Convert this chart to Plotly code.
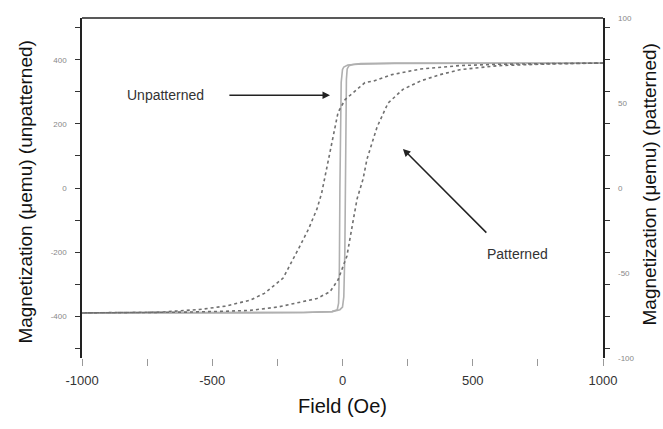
import plotly.graph_objects as go

# Unpatterned loop (left axis, µemu)
unp_desc_H = [1000, 500, 200, 60, 20, 5, 0, -5, -8, -10, -12, -15, -20, -40, -150, -500, -1000]
unp_desc_M = [390, 390, 389, 387, 384, 378, 370, 330, 200, 0, -250, -360, -380, -386, -389, -390, -390]
unp_asc_H = [-1000, -500, -150, -40, -10, 0, 5, 9, 11, 13, 15, 18, 25, 40, 70, 200, 500, 1000]
unp_asc_M = [-390, -390, -389, -386, -380, -372, -340, -200, 0, 200, 340, 372, 382, 386, 389, 390, 390, 390]

# Patterned loop (right axis, µemu)
pat_desc_H = [1000, 800, 600, 450, 300, 190, 120, 86, 50, 10, -17, -40, -67, -80, -98, -130, -163, -200, -228, -300, -355, -450, -550, -700, -850, -1000]
pat_desc_M = [73.5, 73.3, 72.8, 72, 70, 66.7, 63, 62, 57, 52, 44.5, 27, 5.3, -3, -12.3, -24, -34, -45, -53, -62, -66, -69.5, -71.5, -73, -73.3, -73.5]
pat_asc_H = [-1000, -800, -600, -450, -355, -247, -163, -98, -48, -17, 0, 17, 40, 56, 79, 94, 133, 175, 232, 300, 375, 450, 600, 800, 1000]
pat_asc_M = [-73.5, -73.3, -73, -72.5, -72, -70, -67, -65, -61, -54, -47, -40, -20, -6.4, 5.3, 17, 36, 50, 58, 63, 66.7, 69.6, 72, 73, 73.5]

x_ticks = [-1000, -750, -500, -250, 0, 250, 500, 750, 1000]
x_ticklabels = ["-1000", "", "-500", "", "0", "", "500", "", "1000"]
yl_ticks = [-500, -400, -300, -200, -100, 0, 100, 200, 300, 400, 500]
yl_ticklabels = ["", "-400", "", "-200", "", "0", "", "200", "", "400", ""]
yr_ticks = [-100, -50, 0, 50, 100]
yr_ticklabels = ["-100", "-50", "0", "50", "100"]

fig = go.Figure()
unp_style = dict(color="#b0b0b0", width=1.6)
pat_style = dict(color="#707070", width=1.6, dash="dot")

fig.add_trace(go.Scatter(x=unp_desc_H, y=unp_desc_M, mode="lines", line=unp_style, yaxis="y", showlegend=False))
fig.add_trace(go.Scatter(x=unp_asc_H, y=unp_asc_M, mode="lines", line=unp_style, yaxis="y", showlegend=False))
fig.add_trace(go.Scatter(x=pat_desc_H, y=pat_desc_M, mode="lines", line=pat_style, yaxis="y2", showlegend=False))
fig.add_trace(go.Scatter(x=pat_asc_H, y=pat_asc_M, mode="lines", line=pat_style, yaxis="y2", showlegend=False))

font_family = "Liberation Sans, Arial, sans-serif"

fig.update_layout(
    width=663, height=429,
    margin=dict(l=82, r=60, t=18, b=71),
    paper_bgcolor="white", plot_bgcolor="white",
    font=dict(family=font_family, color="#222"),
    xaxis=dict(
        range=[-1000, 1000], tickvals=x_ticks, ticktext=x_ticklabels,
        ticks="outside", ticklen=7, tickcolor="#999", showline=False,
        showgrid=False, zeroline=False, tickfont=dict(size=13, color="#333"),
        ticklabelstandoff=3,
        title=dict(text="Field (Oe)", font=dict(size=20, color="#111"), standoff=12),
    ),
    yaxis=dict(
        range=[-531, 531], tickvals=yl_ticks, ticktext=yl_ticklabels,
        ticks="outside", ticklen=5, tickcolor="#333", showline=True, linecolor="#222",
        linewidth=1.5, mirror="ticks", showgrid=False, zeroline=False,
        tickfont=dict(size=8, color="#888"), ticklabelstandoff=7,
    ),
    yaxis2=dict(
        range=[-100, 100], overlaying="y", side="right", tickvals=yr_ticks,
        ticktext=yr_ticklabels, ticks="", showline=False, showgrid=False,
        zeroline=False, tickfont=dict(size=8, color="#888"), ticklabelstandoff=14,
    ),
    shapes=[dict(type="line", xref="paper", yref="paper", x0=0, x1=1, y0=1, y1=1,
                 line=dict(color="#222", width=1.5))],
    annotations=[
        dict(text="Magnetization (μemu) (unpatterned)", xref="paper", yref="paper",
             x=-0.109, y=0.49, xanchor="center", yanchor="middle", textangle=-90, showarrow=False,
             font=dict(size=19, color="#111")),
        dict(text="Magnetization (μemu) (patterned)", xref="paper", yref="paper",
             x=1.09, y=0.51, xanchor="center", yanchor="middle", textangle=-90, showarrow=False,
             font=dict(size=19, color="#111")),
        dict(text="Unpatterned", x=-680, y=290, xref="x", yref="y", showarrow=False,
             font=dict(size=14, color="#333")),
        dict(text="", x=-48, y=290, ax=-440, ay=290, xref="x", yref="y", axref="x", ayref="y",
             showarrow=True, arrowhead=2, arrowsize=1, arrowwidth=1.5, arrowcolor="#222"),
        dict(text="Patterned", x=670, y=-205, xref="x", yref="y", showarrow=False,
             font=dict(size=14, color="#333")),
        dict(text="", x=232, y=122, ax=558, ay=-144, xref="x", yref="y", axref="x", ayref="y",
             showarrow=True, arrowhead=2, arrowsize=1, arrowwidth=1.5, arrowcolor="#222"),
    ],
)

fig.write_html("out.html")
